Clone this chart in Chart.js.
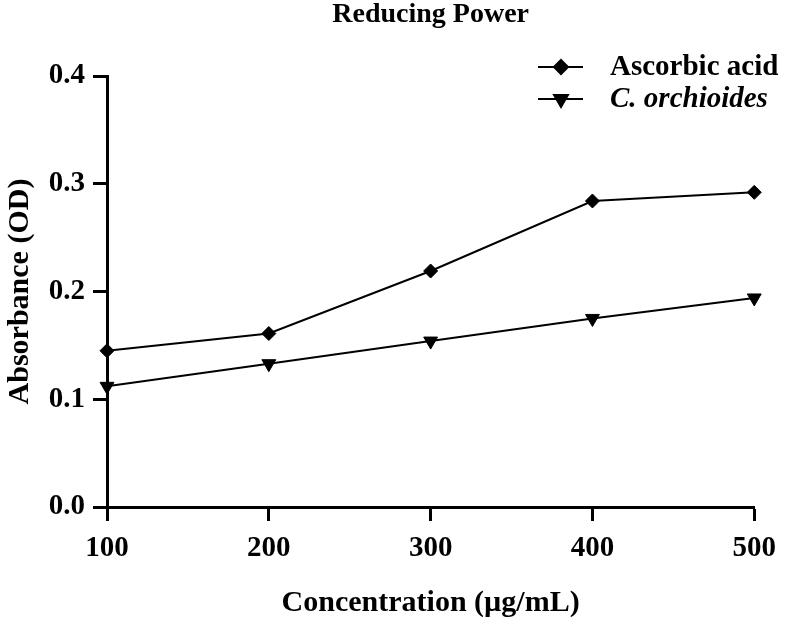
<!DOCTYPE html>
<html>
<head>
<meta charset="utf-8">
<script src="https://cdn.jsdelivr.net/npm/chart.js@4"></script>
<style>
  body { margin: 0; background: #fff; }
  #wrap { width: 786px; height: 621px; }
</style>
</head>
<body>
<div id="wrap"><canvas id="myChart" width="786" height="621"></canvas></div>
<script>
const concentrations = [100, 200, 300, 400, 500];
const ascorbicAcid = [0.145, 0.161, 0.219, 0.284, 0.292];
const orchioides = [0.112, 0.133, 0.154, 0.175, 0.194];
const yTicks = [0.0, 0.1, 0.2, 0.3, 0.4];
const chartTitle = "Reducing Power";
const seriesNames = ["Ascorbic acid", "C. orchioides"];

const FONT = "'Liberation Serif', 'Times New Roman', serif";

const toPoints = (ys) => concentrations.map((x, i) => ({ x: x, y: ys[i] }));

// title + legend drawn by hand, GraphPad style
const extras = {
  id: "extras",
  afterDraw(chart) {
    const { ctx, chartArea } = chart;
    ctx.save();
    ctx.fillStyle = "#000";
    ctx.font = "bold 28px " + FONT;
    ctx.textAlign = "center";
    ctx.textBaseline = "alphabetic";
    ctx.fillText(chartTitle, (chartArea.left + chartArea.right) / 2, 22);

    const rows = [67, 99];
    chart.data.datasets.forEach((ds, i) => {
      const y = rows[i];
      ctx.strokeStyle = "#000";
      ctx.lineWidth = 2;
      ctx.beginPath();
      ctx.moveTo(538, y);
      ctx.lineTo(583, y);
      ctx.stroke();
      ctx.fillStyle = "#000";
      Chart.helpers.drawPoint(ctx, {
        pointStyle: ds.pointStyle,
        rotation: ds.pointRotation || 0,
        radius: ds.pointRadius,
        borderWidth: 1
      }, 561, y);
      ctx.font = (i === 1 ? "italic " : "") + "bold 29px " + FONT;
      ctx.textAlign = "left";
      ctx.textBaseline = "middle";
      ctx.fillText(ds.label, 610, y + 1);
    });
    ctx.restore();
  }
};

const ctx = document.getElementById("myChart").getContext("2d");

const myChart = new Chart(ctx, {
  type: "line",
  data: {
    datasets: [
      {
        label: seriesNames[0],
        data: toPoints(ascorbicAcid),
        borderColor: "#000",
        backgroundColor: "#000",
        borderWidth: 2,
        pointStyle: "rectRot",
        pointRadius: 7,
        pointBorderWidth: 1,
        clip: false,
      },
      {
        label: seriesNames[1],
        data: toPoints(orchioides),
        borderColor: "#000",
        backgroundColor: "#000",
        borderWidth: 2,
        pointStyle: "triangle",
        pointRotation: 180,
        pointRadius: 8,
        pointBorderWidth: 1,
        clip: false,
      },
    ],
  },
  options: {
    responsive: false,
    animation: false,
    layout: { padding: { top: 76, right: 31, left: 0, bottom: 0 } },
    plugins: {
      legend: { display: false },
      tooltip: { enabled: false },
    },
    scales: {
      x: {
        type: "linear",
        min: 100,
        max: 500,
        afterFit: (scale) => { scale.height = 114; },
        afterBuildTicks: (scale) => { scale.ticks = concentrations.map((v) => ({ value: v })); },
        grid: { drawOnChartArea: false, tickLength: 14, tickWidth: 3, tickColor: "#000" },
        border: { width: 3, color: "#000" },
        ticks: {
          color: "#000",
          padding: 10,
          maxRotation: 0,
          font: { family: FONT, size: 29, weight: "bold" },
        },
        title: {
          display: true,
          text: "Concentration (\u00b5g/mL)",
          color: "#000",
          padding: { bottom: 0 },
          font: { family: FONT, size: 30, weight: "bold" },
        },
      },
      y: {
        min: 0,
        max: 0.4,
        afterFit: (scale) => { scale.width = 107; },
        afterBuildTicks: (scale) => { scale.ticks = yTicks.map((v) => ({ value: v })); },
        grid: { drawOnChartArea: false, tickLength: 14, tickWidth: 3, tickColor: "#000" },
        border: { width: 3, color: "#000" },
        ticks: {
          color: "#000",
          padding: 8,
          callback: (v) => Number(v).toFixed(1),
          font: { family: FONT, size: 29, weight: "bold" },
        },
        title: {
          display: true,
          text: "Absorbance (OD)",
          color: "#000",
          padding: { top: 2 },
          font: { family: FONT, size: 30, weight: "bold" },
        },
      },
    },
  },
  plugins: [extras],
});
</script>
</body>
</html>
